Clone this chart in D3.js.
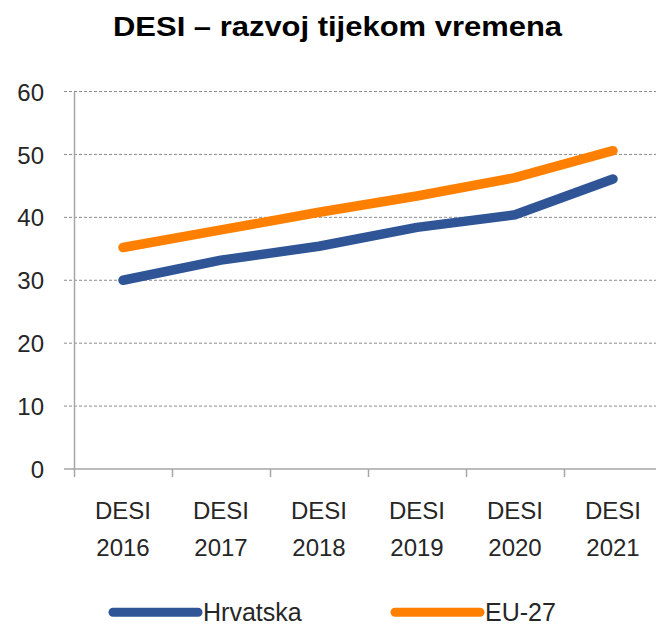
<!DOCTYPE html>
<html lang="hr">
<head>
    <meta charset="UTF-8">
    <title>DESI – razvoj tijekom vremena</title>
    <script type="text/javascript" src="https://cdn.jsdelivr.net/npm/d3@7"></script>
    <style type="text/css">
        body { margin: 0; background: #fff; }
        text { font-family: "Liberation Sans", Arial, sans-serif; fill: #262626; }
    </style>
</head>
<body>
    <script type="text/javascript">
        //Width and height
        var w = 656;
        var h = 625;

        var years = ["2016", "2017", "2018", "2019", "2020", "2021"];
        var hrvatska = [30.0, 33.2, 35.4, 38.4, 40.4, 46.1];
        var eu27 = [35.2, 38.0, 40.8, 43.4, 46.3, 50.6];
        var seriesNames = ["Hrvatska", "EU-27"];
        var yTicks = [0, 10, 20, 30, 40, 50, 60];

        var colors = ["#2f5597", "#ff8000"];
        var series = [hrvatska, eu27];

        var xScale = d3.scaleBand()
            .domain(years)
            .range([74, 662]);

        var yScale = d3.scaleLinear()
            .domain([0, 60])
            .range([469, 91.5]);

        //Create SVG element
        var svg = d3.select("body")
            .append("svg")
            .attr("width", w)
            .attr("height", h);

        //Title
        svg.append("text")
            .attr("x", 337.5)
            .attr("y", 35.7)
            .attr("text-anchor", "middle")
            .attr("font-weight", "bold")
            .attr("font-size", 27)
            .attr("textLength", 449)
            .attr("lengthAdjust", "spacingAndGlyphs")
            .style("fill", "#000")
            .text("DESI – razvoj tijekom vremena");

        //Gridlines
        svg.selectAll("line.grid")
            .data(yTicks.filter(function(d) { return d > 0; }))
            .enter()
            .append("line")
            .attr("class", "grid")
            .attr("x1", 64)
            .attr("x2", w)
            .attr("y1", function(d) { return yScale(d); })
            .attr("y2", function(d) { return yScale(d); })
            .attr("stroke", "#8c8c8c")
            .attr("stroke-width", 1)
            .attr("stroke-dasharray", "3,2");

        //Y axis
        var yAxis = d3.axisLeft(yScale)
            .tickValues(yTicks)
            .tickSize(0)
            .tickPadding(30);

        var gy = svg.append("g")
            .attr("transform", "translate(74,0)")
            .call(yAxis);
        gy.select(".domain").attr("stroke", "#a6a6a6").attr("stroke-width", 1.5);
        gy.selectAll("text")
            .attr("font-size", 24)
            .attr("dy", "0.36em")
            .style("fill", "#262626");

        //X axis
        var xAxis = d3.axisBottom(d3.scaleLinear().domain([0, 6]).range([74, 662]))
            .tickValues(d3.range(7))
            .tickSize(8)
            .tickFormat("");

        var gx = svg.append("g")
            .attr("transform", "translate(0," + yScale(0) + ")")
            .call(xAxis);
        gx.select(".domain").attr("d", "M64,0H" + w).attr("stroke", "#a6a6a6").attr("stroke-width", 1.5);
        gx.selectAll(".tick line").attr("stroke", "#a6a6a6").attr("stroke-width", 1.5);

        //Category labels
        var labels = svg.selectAll("text.cat")
            .data(years)
            .enter()
            .append("text")
            .attr("class", "cat")
            .attr("text-anchor", "middle")
            .attr("font-size", 24)
            .attr("x", function(d) { return xScale(d) + xScale.bandwidth() / 2; });
        labels.append("tspan")
            .attr("x", function(d) { return xScale(d) + xScale.bandwidth() / 2; })
            .attr("y", 519.3)
            .text("DESI");
        labels.append("tspan")
            .attr("x", function(d) { return xScale(d) + xScale.bandwidth() / 2; })
            .attr("y", 556)
            .text(function(d) { return d; });

        //Lines
        var line = d3.line()
            .x(function(d, i) { return xScale(years[i]) + xScale.bandwidth() / 2; })
            .y(function(d) { return yScale(d); });

        svg.selectAll("path.series")
            .data(series)
            .enter()
            .append("path")
            .attr("class", "series")
            .attr("d", line)
            .attr("fill", "none")
            .attr("stroke", function(d, i) { return colors[i]; })
            .attr("stroke-width", 9.5)
            .attr("stroke-linecap", "round")
            .attr("stroke-linejoin", "round");

        //Legend
        var legendX = [113, 395];
        var legend = svg.selectAll("g.legend")
            .data(seriesNames)
            .enter()
            .append("g")
            .attr("class", "legend")
            .attr("transform", function(d, i) { return "translate(" + legendX[i] + ",612.3)"; });
        legend.append("line")
            .attr("x1", 0)
            .attr("x2", 85)
            .attr("stroke", function(d, i) { return colors[i]; })
            .attr("stroke-width", 9)
            .attr("stroke-linecap", "round");
        legend.append("text")
            .attr("x", 90)
            .attr("y", 8.7)
            .attr("font-size", 25)
            .text(function(d) { return d; });
    </script>
</body>
</html>
